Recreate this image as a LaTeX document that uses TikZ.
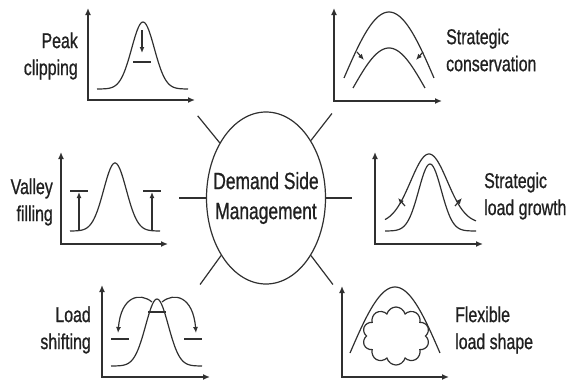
\documentclass[tikz,border=0pt]{standalone}
\usepackage{fontspec}
\setmainfont[FakeStretch=0.74,FakeBold=0.8]{Liberation Sans}
\usetikzlibrary{arrows.meta,shapes.geometric,shapes.symbols}
\definecolor{ink}{HTML}{303030}
\definecolor{textgray}{HTML}{202020}

\begin{document}
\begin{tikzpicture}[
  x=1pt,y=-1pt,
  hub/.style={ellipse,draw=ink,line width=1.2pt,minimum width=119pt,minimum height=172pt,
              inner xsep=-22pt,inner ysep=0pt,align=center,text=textgray,font=\fontsize{23.5}{30}\selectfont},
  caption/.style={inner sep=0pt,text=textgray,font=\fontsize{21.5}{27}\selectfont},
  axis/.style={{Latex[length=7pt,width=6pt]}-{Latex[length=7pt,width=6pt]},line width=1.4pt,draw=ink},
  curve/.style={line width=1.2pt,draw=ink},
  spoke/.style={line width=1.2pt,draw=ink},
  move/.style={-{Latex[length=6pt,width=5pt]},line width=1.2pt,draw=ink},
  bar/.style={line width=1.2pt,draw=ink},
  puff/.style={cloud,cloud puffs=10,draw=ink,line width=1.2pt,minimum width=67pt,minimum height=58pt,inner sep=0pt}
]
  \useasboundingbox (0,0) rectangle (569,383);

  \node[hub] (dsm) at (266,198) {Demand Side\\Management};

  \draw[spoke] (dsm.130) -- ++(-22,-27);
  \draw[spoke] (dsm.52) -- ++(21,-27);
  \draw[spoke] (dsm.180) -- ++(-27,0);
  \draw[spoke] (dsm.0) -- ++(26,0);
  \draw[spoke] (dsm.232) -- ++(-21,29);
  \draw[spoke] (dsm.308) -- ++(22,29);

  \node[caption,align=right,anchor=east] (peak) at (78,56) {Peak\\clipping};
  \node[caption,align=left,anchor=west] (conserve) at (446,50) {Strategic\\conservation};
  \node[caption,align=right,anchor=east] (valley) at (53,202) {Valley\\filling};
  \node[caption,align=left,anchor=west] (growth) at (484,196) {Strategic\\load growth};
  \node[caption,align=right,anchor=east] (shifting) at (91,330) {Load\\shifting};
  \node[caption,align=left,anchor=west] (flexible) at (455,330) {Flexible\\load shape};

  \draw[axis] (88,8) -- (88,100) -- (195,100);
  \draw[curve] plot[domain=97:188,samples=80,smooth] (\x,{89-67*exp(-((\x-143)/16)^2)});
  \draw[move] (142,30) -- (142,53);
  \draw[bar] (133,62) -- (151,62);

  \draw[axis] (334,8) -- (334,101) -- (442,101);
  \draw[curve] plot[domain=-1:1,samples=60,smooth] ({389+45*\x},{12+66*(1-cos(90*\x))});
  \draw[curve] plot[domain=-1:1,samples=60,smooth] ({389+36*\x},{48+40*(1-cos(90*\x))});
  \draw[move] (357,52) -- (364,60);
  \draw[move] (423,52) -- (416,60);

  \draw[axis] (61,152) -- (61,244) -- (168,244);
  \draw[curve] plot[domain=70:160,samples=80,smooth] (\x,{231-68*exp(-((\x-115)/16)^2)});
  \draw[move] (79,230) -- (79,192);
  \draw[bar] (70,191) -- (88,191);
  \draw[move] (152,230) -- (152,192);
  \draw[bar] (143,191) -- (161,191);

  \draw[axis] (375,152) -- (375,244) -- (483,244);
  \draw[curve] plot[domain=385:476,samples=80,smooth] (\x,{223.5-69.5*exp(-((\x-429)/26)^2)});
  \draw[curve] plot[domain=385:476,samples=80,smooth] (\x,{231-67*exp(-((\x-430)/16)^2)});
  \draw[move] (405,206) -- (398,198);
  \draw[move] (455,206) -- (462,198);

  \draw[axis] (102,285) -- (102,377) -- (210,377);
  \draw[curve] plot[domain=111:202,samples=80,smooth] (\x,{366-67*exp(-((\x-157)/16)^2)});
  \draw[bar] (148,312) -- (166,312);
  \draw[bar] (111,339) -- (129,339);
  \draw[bar] (184,339) -- (202,339);
  \draw[move] (152,302) .. controls (140,292) and (121,296) .. (118,333);
  \draw[move] (162,302) .. controls (174,292) and (193,296) .. (196,333);

  \draw[axis] (342,286) -- (342,377) -- (449,377);
  \draw[curve] plot[domain=-1:1,samples=60,smooth] ({395+45*\x},{287+66*(1-cos(90*\x))});
  \node[puff] (blob) at (396,336) {};
\end{tikzpicture}
\end{document}
